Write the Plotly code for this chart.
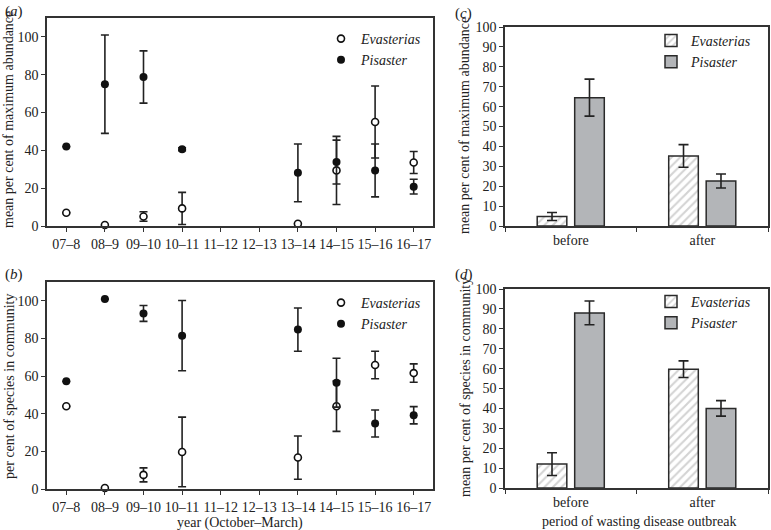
import plotly.graph_objects as go

# ---------------- data ----------------
years = ["07–8", "08–9", "09–10", "10–11", "11–12", "12–13", "13–14", "14–15", "15–16", "16–17"]

# (a) mean per cent of maximum abundance
a_evasterias = [7, 0.5, 5, 9.3, None, None, 1.2, 29.4, 55, 33.6]
a_evasterias_err = [0, 0, 2.5, 8.5, None, None, 0, 18, 19, 5.8]
a_pisaster = [42, 75, 78.8, 40.6, None, None, 28.1, 33.8, 29.4, 20.8]
a_pisaster_err = [0, 26, 13.8, 0.8, None, None, 15.3, 11.6, 14, 3.9]

# (b) per cent of species in community
b_evasterias = [44, 0.5, 7.5, 19.7, None, None, 16.7, 44, 65.9, 61.6]
b_evasterias_err = [0, 0, 3.7, 18.5, None, None, 11.5, 13.4, 7.3, 4.9]
b_pisaster = [57.2, 100.9, 93.3, 81.5, None, None, 84.7, 56.5, 34.8, 39.2]
b_pisaster_err = [0, 0, 4.2, 18.7, None, None, 11.5, 13, 7.2, 4.6]

periods = ["before", "after"]
# (c) mean per cent of maximum abundance
c_evasterias = [4.8, 35.2]
c_evasterias_err = [2, 5.7]
c_pisaster = [64.5, 22.6]
c_pisaster_err = [9.3, 3.5]
# (d) mean per cent of species in community
d_evasterias = [12, 59.7]
d_evasterias_err = [5.7, 4.2]
d_pisaster = [88, 40]
d_pisaster_err = [6, 3.9]

# ---------------- style ----------------
FONT = "Liberation Serif"
TXT = "#222"
LINE = "#333333"
W, H = 771, 530

def px_x(p):
    return p / W

def px_y(p):
    return 1 - p / H

fig = go.Figure()

def scatter_pair(xa, ya, ev, ev_err, pi, pi_err, legend):
    fig.add_trace(go.Scatter(
        x=years, y=ev, mode="markers", name="<i>Evasterias</i>",
        xaxis=xa, yaxis=ya, legend=legend, showlegend=True,
        marker=dict(symbol="circle", size=7, color="white", line=dict(color="#111", width=1.6)),
        error_y=dict(type="data", array=ev_err, visible=True, color="#222", thickness=1.6, width=4),
        cliponaxis=False,
    ))
    fig.add_trace(go.Scatter(
        x=years, y=pi, mode="markers", name="<i>Pisaster</i>",
        xaxis=xa, yaxis=ya, legend=legend, showlegend=True,
        marker=dict(symbol="circle", size=8, color="#111", line=dict(color="#111", width=0)),
        error_y=dict(type="data", array=pi_err, visible=True, color="#222", thickness=1.6, width=4),
        cliponaxis=False,
    ))

def bar_pair(xa, ya, ev, ev_err, pi, pi_err, legend):
    fig.add_trace(go.Bar(
        x=periods, y=ev, name="<i>Evasterias</i>", xaxis=xa, yaxis=ya, legend=legend,
        marker=dict(color="white", line=dict(color="#2a2a2a", width=1.5),
                    pattern=dict(shape="/", fgcolor="#a8a8a8", bgcolor="white", size=6, solidity=0.35)),
        error_y=dict(type="data", array=ev_err, visible=True, color="#222", thickness=1.6, width=5),
    ))
    fig.add_trace(go.Bar(
        x=periods, y=pi, name="<i>Pisaster</i>", xaxis=xa, yaxis=ya, legend=legend,
        marker=dict(color="#b3b5b8", line=dict(color="#2a2a2a", width=1.5)),
        error_y=dict(type="data", array=pi_err, visible=True, color="#222", thickness=1.6, width=5),
    ))

scatter_pair("x", "y", a_evasterias, a_evasterias_err, a_pisaster, a_pisaster_err, "legend")
scatter_pair("x2", "y2", b_evasterias, b_evasterias_err, b_pisaster, b_pisaster_err, "legend2")
bar_pair("x3", "y3", c_evasterias, c_evasterias_err, c_pisaster, c_pisaster_err, "legend3")
bar_pair("x4", "y4", d_evasterias, d_evasterias_err, d_pisaster, d_pisaster_err, "legend4")

tickfont = dict(family=FONT, size=14, color=TXT)

def xcat(domain, anchor, cats, boundaries):
    d = dict(domain=domain, anchor=anchor, type="category", categoryorder="array",
             categoryarray=cats, range=[-0.5, len(cats) - 0.5],
             showline=True, linecolor=LINE, linewidth=1.6, mirror=True,
             ticks="outside", ticklen=4, tickwidth=1.2, tickcolor=LINE,
             tickfont=tickfont, showgrid=False, zeroline=False, automargin=False,
             fixedrange=True)
    if boundaries:
        d["tickson"] = "boundaries"
    return d

def ylin(domain, anchor, rng, dtick):
    return dict(domain=domain, anchor=anchor, range=rng, dtick=dtick, tick0=0,
                showline=True, linecolor=LINE, linewidth=1.6, mirror=True,
                ticks="outside", ticklen=4, tickwidth=1.2, tickcolor=LINE,
                tickfont=tickfont, showgrid=False, zeroline=False, automargin=False,
                fixedrange=True)

dom_ax = [px_x(47), px_x(433)]
dom_cx = [px_x(505), px_x(768)]
dom_ay = [px_y(226), px_y(18)]
dom_by = [px_y(489), px_y(282)]
dom_cy = [px_y(226), px_y(27)]
dom_dy = [px_y(488), px_y(289)]

def legend_at(x, y):
    return dict(x=x, y=y, xanchor="left", yanchor="top", bgcolor="rgba(0,0,0,0)",
                font=dict(family=FONT, size=14, color=TXT), itemwidth=30,
                tracegroupgap=0)

def label(text, x, y, size=15, angle=0, xanchor="left", yanchor="top"):
    return dict(text=text, x=px_x(x), y=px_y(y), xref="paper", yref="paper",
                xanchor=xanchor, yanchor=yanchor, showarrow=False, textangle=angle,
                font=dict(family=FONT, size=size, color=TXT))

fig.update_layout(
    width=W, height=H,
    margin=dict(l=0, r=0, t=0, b=0),
    paper_bgcolor="white", plot_bgcolor="white",
    font=dict(family=FONT, size=14, color=TXT),
    barmode="group", bargap=0.43, bargroupgap=0.21,
    xaxis=xcat(dom_ax, "y", years, False),
    yaxis=ylin(dom_ay, "x", [0, 110], 20),
    xaxis2=xcat(dom_ax, "y2", years, False),
    yaxis2=ylin(dom_by, "x2", [0, 110], 20),
    xaxis3=xcat(dom_cx, "y3", periods, True),
    yaxis3=ylin(dom_cy, "x3", [0, 100], 10),
    xaxis4=xcat(dom_cx, "y4", periods, True),
    yaxis4=ylin(dom_dy, "x4", [0, 100], 10),
    legend=legend_at(px_x(321), px_y(23)),
    legend2=legend_at(px_x(321), px_y(287)),
    legend3=legend_at(px_x(651), px_y(25)),
    legend4=legend_at(px_x(651), px_y(286)),
    showlegend=True,
    annotations=[
        label("(<i>a</i>)", 3, 1),
        label("(<i>b</i>)", 3, 264),
        label("(<i>c</i>)", 453, 3),
        label("(<i>d</i>)", 453, 264),
        label("mean per cent of maximum abundance", 9, 120, 14, -90, "center", "middle"),
        label("per cent of species in community", 9, 387, 14, -90, "center", "middle"),
        label("mean per cent of maximum abundance", 465, 126, 14, -90, "center", "middle"),
        label("mean per cent of species in community", 465, 388, 14, -90, "center", "middle"),
        label("year (October–March)", 240, 523, 14, 0, "center", "middle"),
        label("period of wasting disease outbreak", 639, 521, 14, 0, "center", "middle"),
    ],
)

fig.write_html("out.html", config={"displayModeBar": False},
               post_script="document.body.style.margin='0px';document.body.style.padding='0px';")
